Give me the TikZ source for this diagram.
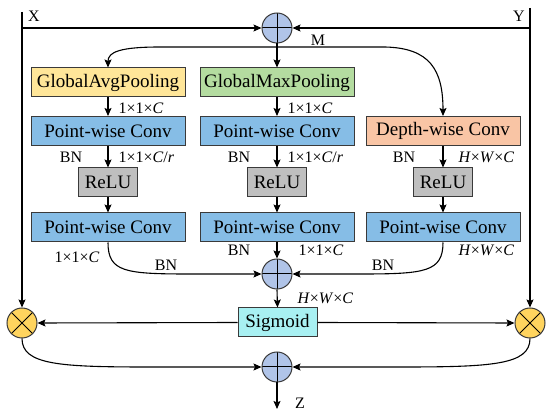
\documentclass[tikz,border=0pt]{standalone}
\usepackage{fontspec}
\setmainfont{Liberation Serif}
\usetikzlibrary{arrows.meta}
\definecolor{cyellow}{HTML}{FFE699}
\definecolor{cgreen}{HTML}{B4DCA0}
\definecolor{cblue}{HTML}{86BDE6}
\definecolor{corange}{HTML}{F9C5A5}
\definecolor{cgray}{HTML}{BFBFBF}
\definecolor{ccyan}{HTML}{A8F0F2}
\definecolor{cplus}{HTML}{B0C4E8}
\definecolor{cmul}{HTML}{FFD45E}
\definecolor{cedge}{HTML}{3A3A3A}
\begin{document}
\begin{tikzpicture}[x=1pt,y=-1pt,
  line width=1.1pt,
  arr/.style={-{Stealth[length=8pt,width=7pt,inset=1.5pt]}},
  blk/.style={draw=cedge,line width=1pt,minimum width=154pt,minimum height=29pt,inner sep=0pt,font=\fontsize{19}{22}\selectfont},
  relu/.style={draw=cedge,line width=1pt,fill=cgray,minimum width=59pt,minimum height=29pt,inner sep=0pt,font=\fontsize{19}{22}\selectfont},
  lbl/.style={font=\fontsize{16}{18}\selectfont,inner sep=0pt},
  plusc/.style={circle,draw=cedge,line width=1pt,fill=cplus,minimum size=30pt,inner sep=0pt,path picture={\draw[line width=1pt,black] (path picture bounding box.north) -- (path picture bounding box.south) (path picture bounding box.west) -- (path picture bounding box.east);}},
  mulc/.style={circle,draw=cedge,line width=1pt,fill=cmul,minimum size=30pt,inner sep=0pt,path picture={\draw[line width=1pt,black] (path picture bounding box.north west) -- (path picture bounding box.south east) (path picture bounding box.south west) -- (path picture bounding box.north east);}}
]
\useasboundingbox (0,0) rectangle (550,414);

% top
\node[plusc] (ptop) at (277,28) {};
\coordinate (xtop) at (22,12);
\coordinate (ytop) at (530,8);
\coordinate (xmid) at (22,28);
\coordinate (ymid) at (530,28);
\node[lbl] (xl) at (34,16) {X};
\node[lbl] (yl) at (519,16) {Y};
\node[lbl] (ml) at (318,40) {M};

% row 1
\node[blk,fill=cyellow] (gap) at (108,82.5) {GlobalAvgPooling};
\node[blk,fill=cgreen] (gmp) at (277,82.5) {GlobalMaxPooling};
% row 2
\node[blk,fill=cblue] (pw1a) at (108,131) {Point-wise Conv};
\node[blk,fill=cblue] (pw1b) at (277,131) {Point-wise Conv};
\node[blk,fill=corange] (dw) at (443,131) {Depth-wise Conv};
% relu
\node[relu] (r1) at (108,182.5) {ReLU};
\node[relu] (r2) at (277,182.5) {ReLU};
\node[relu] (r3) at (443,182.5) {ReLU};
% row 3
\node[blk,fill=cblue] (pw2a) at (108,227.5) {Point-wise Conv};
\node[blk,fill=cblue] (pw2b) at (277,227.5) {Point-wise Conv};
\node[blk,fill=cblue] (pw2c) at (443,227.5) {Point-wise Conv};

\node[plusc] (pmid) at (277,274) {};
\node[draw=cedge,line width=1pt,fill=ccyan,minimum width=79pt,minimum height=29pt,inner sep=0pt,font=\fontsize{19}{22}\selectfont] (sig) at (277.5,322.5) {Sigmoid};
\node[mulc] (mL) at (22,323) {};
\node[mulc] (mR) at (530,323) {};
\node[plusc] (pbot) at (277,367) {};
\coordinate (zend) at (277,409);
\node[lbl] (zl) at (300,403) {Z};

% labels
\node[lbl,anchor=west] (l1) at (118,108) {1\texttimes1\texttimes\textit{C}};
\node[lbl,anchor=west] (l2) at (287,108) {1\texttimes1\texttimes\textit{C}};
\node[lbl] (bn1) at (71,157) {BN};
\node[lbl,anchor=west] (l3) at (118,157) {1\texttimes1\texttimes\textit{C}/\textit{r}};
\node[lbl] (bn2) at (239,157) {BN};
\node[lbl,anchor=west] (l4) at (287,157) {1\texttimes1\texttimes\textit{C}/\textit{r}};
\node[lbl] (bn3) at (404,157) {BN};
\node[lbl,anchor=west] (l5) at (458,157) {\textit{H}\texttimes\textit{W}\texttimes\textit{C}};
\node[lbl] (l6) at (77,257) {1\texttimes1\texttimes\textit{C}};
\node[lbl] (bn4) at (239,250) {BN};
\node[lbl,anchor=west] (l7) at (298,250) {1\texttimes1\texttimes\textit{C}};
\node[lbl,anchor=west] (l8) at (458,250) {\textit{H}\texttimes\textit{W}\texttimes\textit{C}};
\node[lbl] (bn5) at (166,265) {BN};
\node[lbl] (bn6) at (383,265) {BN};
\node[lbl,anchor=west] (l9) at (297,298) {\textit{H}\texttimes\textit{W}\texttimes\textit{C}};

% connectors
\draw (xtop) -- (xmid);
\draw[arr] (xmid) -- (ptop.west);
\draw[arr] (xmid) -- (mL.north);
\draw (ytop) -- (ymid);
\draw[arr] (ymid) -- (ptop.east);
\draw[arr] (ymid) -- (mR.north);
\draw[arr] (ptop.south) -- (gmp.north);
\coordinate (mm) at (277,47);
\draw[arr] (mm) -- (160,47) .. controls (120,47) and (108,52) .. (gap.north);
\draw[arr] (mm) -- (385,47) .. controls (430,48) and (443,70) .. (dw.north);

\draw[arr] (gap.south) -- (pw1a.north);
\draw[arr] (gmp.south) -- (pw1b.north);
\draw[arr] (pw1a.south) -- (r1.north);
\draw[arr] (pw1b.south) -- (r2.north);
\draw[arr] (dw.south) -- (r3.north);
\draw[arr] (r1.south) -- (pw2a.north);
\draw[arr] (r2.south) -- (pw2b.north);
\draw[arr] (r3.south) -- (pw2c.north);

\draw[arr] (pw2a.south) .. controls (108,272) and (125,274) .. (190,274) -- (pmid.west);
\draw[arr] (pw2c.south) .. controls (443,272) and (425,274) .. (360,274) -- (pmid.east);
\draw[arr] (pw2b.south) -- (pmid.north);
\draw[arr] (pmid.south) -- (sig.north);
\draw[arr] (sig.west) -- (mL.east);
\draw[arr] (sig.east) -- (mR.west);
\draw[arr] (mL.south) .. controls (22,365) and (60,367) .. (150,367) -- (pbot.west);
\draw[arr] (mR.south) .. controls (530,365) and (492,367) .. (400,367) -- (pbot.east);
\draw[arr] (pbot.south) -- (zend);
\end{tikzpicture}
\end{document}
